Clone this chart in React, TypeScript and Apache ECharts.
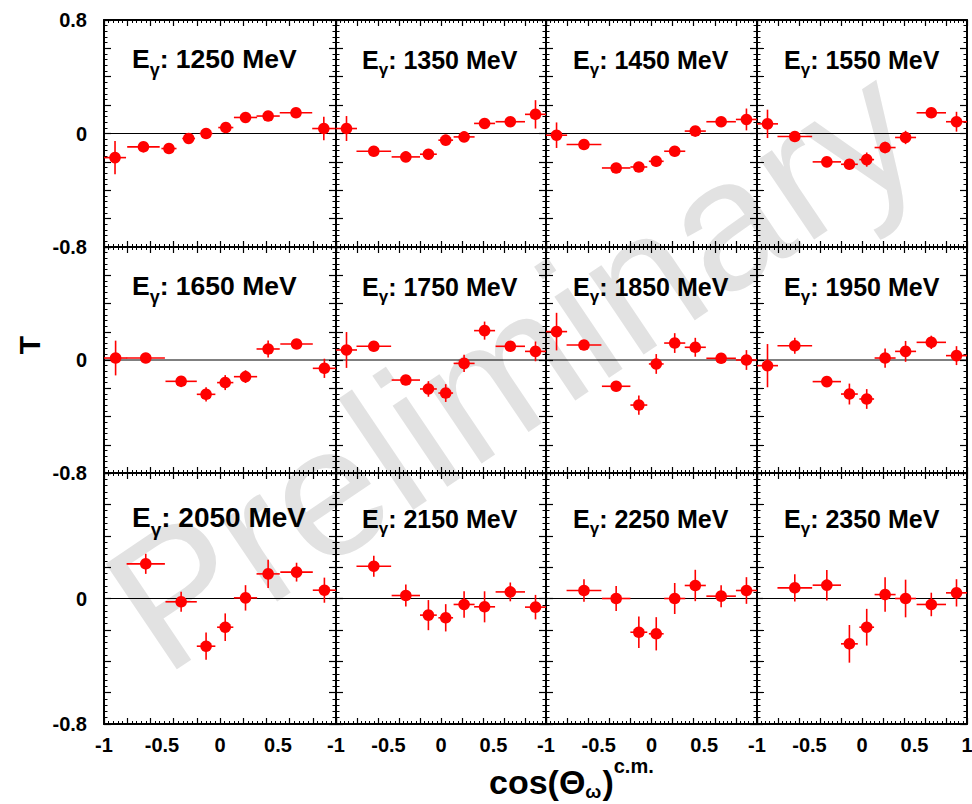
import React, { useEffect, useRef } from 'react';
import * as echarts from 'echarts';

// ---------- data ----------
const ENERGIES = [1250, 1350, 1450, 1550, 1650, 1750, 1850, 1950, 2050, 2150, 2250, 2350];

// angular bins (cos theta_omega c.m.) and half bin widths
const COS_10 = [-0.905, -0.66, -0.44, -0.27, -0.12, 0.05, 0.22, 0.415, 0.655, 0.895];
const HALF_10 = [0.095, 0.14, 0.065, 0.055, 0.055, 0.065, 0.1, 0.1, 0.14, 0.1];
const COS_9 = [-0.9, -0.64, -0.335, -0.12, 0.045, 0.22, 0.415, 0.66, 0.9];
const HALF_9 = [0.1, 0.165, 0.135, 0.08, 0.07, 0.1, 0.1, 0.14, 0.1];
const COS_8 = [-0.64, -0.335, -0.12, 0.045, 0.22, 0.415, 0.66, 0.9];
const HALF_8 = [0.165, 0.135, 0.08, 0.07, 0.1, 0.1, 0.14, 0.1];

const T_1250 = [-0.17, -0.094, -0.106, -0.035, 0.0, 0.042, 0.113, 0.123, 0.146, 0.035];
const ERR_1250 = [0.118, 0.03, 0.03, 0.03, 0.025, 0.025, 0.03, 0.03, 0.03, 0.083];
const T_1350 = [0.035, -0.125, -0.165, -0.146, -0.047, -0.024, 0.071, 0.083, 0.135];
const ERR_1350 = [0.088, 0.03, 0.03, 0.03, 0.03, 0.03, 0.03, 0.03, 0.1];
const T_1450 = [-0.012, -0.078, -0.243, -0.236, -0.196, -0.125, 0.017, 0.083, 0.099];
const ERR_1450 = [0.09, 0.03, 0.03, 0.03, 0.035, 0.035, 0.03, 0.03, 0.077];
const T_1550 = [0.068, -0.021, -0.2, -0.217, -0.184, -0.099, -0.028, 0.146, 0.083];
const ERR_1550 = [0.1, 0.03, 0.03, 0.035, 0.05, 0.04, 0.047, 0.035, 0.07];
const T_1650 = [0.014, 0.014, -0.151, -0.243, -0.16, -0.118, 0.078, 0.113, -0.059];
const ERR_1650 = [0.123, 0.03, 0.03, 0.05, 0.053, 0.045, 0.06, 0.03, 0.068];
const T_1750 = [0.071, 0.097, -0.142, -0.205, -0.234, -0.024, 0.208, 0.097, 0.061];
const ERR_1750 = [0.127, 0.03, 0.03, 0.055, 0.063, 0.061, 0.064, 0.03, 0.07];
const T_1850 = [0.201, 0.106, -0.186, -0.319, -0.028, 0.12, 0.09, 0.012, 0.0];
const ERR_1850 = [0.133, 0.03, 0.03, 0.068, 0.07, 0.07, 0.067, 0.03, 0.07];
const T_1950 = [-0.04, 0.101, -0.153, -0.241, -0.276, 0.014, 0.061, 0.125, 0.031];
const ERR_1950 = [0.153, 0.057, 0.03, 0.074, 0.07, 0.068, 0.074, 0.047, 0.067];
const T_2050 = [0.221, -0.021, -0.304, -0.183, 0.004, 0.157, 0.168, 0.053];
const ERR_2050 = [0.064, 0.064, 0.087, 0.088, 0.081, 0.09, 0.06, 0.08];
const T_2150 = [0.206, 0.019, -0.106, -0.123, -0.038, -0.053, 0.042, -0.055];
const ERR_2150 = [0.067, 0.07, 0.096, 0.087, 0.085, 0.099, 0.06, 0.078];
const T_2250 = [0.051, 0.0, -0.215, -0.225, 0.0, 0.083, 0.015, 0.051];
const ERR_2250 = [0.072, 0.08, 0.1, 0.106, 0.099, 0.1, 0.07, 0.085];
const T_2350 = [0.068, 0.085, -0.289, -0.183, 0.025, 0.0, -0.038, 0.036];
const ERR_2350 = [0.087, 0.097, 0.12, 0.117, 0.11, 0.12, 0.075, 0.087];

const X_TICK_LABELS = [-1, -0.5, 0, 0.5, 1];
const Y_TICK_LABELS = [-0.8, 0, 0.8];

const PANELS = [
  { cos: COS_10, half: HALF_10, t: T_1250, err: ERR_1250 },
  { cos: COS_9, half: HALF_9, t: T_1350, err: ERR_1350 },
  { cos: COS_9, half: HALF_9, t: T_1450, err: ERR_1450 },
  { cos: COS_9, half: HALF_9, t: T_1550, err: ERR_1550 },
  { cos: COS_9, half: HALF_9, t: T_1650, err: ERR_1650 },
  { cos: COS_9, half: HALF_9, t: T_1750, err: ERR_1750 },
  { cos: COS_9, half: HALF_9, t: T_1850, err: ERR_1850 },
  { cos: COS_9, half: HALF_9, t: T_1950, err: ERR_1950 },
  { cos: COS_8, half: HALF_8, t: T_2050, err: ERR_2050 },
  { cos: COS_8, half: HALF_8, t: T_2150, err: ERR_2150 },
  { cos: COS_8, half: HALF_8, t: T_2250, err: ERR_2250 },
  { cos: COS_8, half: HALF_8, t: T_2350, err: ERR_2350 },
];

// ---------- layout ----------
const COL_LEFT = [104, 336, 546, 757];
const COL_RIGHT = [336, 546, 757, 967];
const ROW_TOP = [20, 247, 473];
const ROW_BOTTOM = [247, 473, 724];
const TITLE_X = [132, 362, 573, 784];
const TITLE_BASE = [68.3, 295.3, 527.3];

const FONT = '"Liberation Sans", Arial, Helvetica, sans-serif';
const RED = '#ff0000';

function measure(text: string, size: number): number {
  const ctx = document.createElement('canvas').getContext('2d');
  if (!ctx) return text.length * size * 0.6;
  ctx.font = `bold ${size}px "Liberation Sans", Arial, sans-serif`;
  return ctx.measureText(text).width;
}

function buildOption() {
  const grid: any[] = [];
  const xAxis: any[] = [];
  const yAxis: any[] = [];
  const series: any[] = [];
  const graphic: any[] = [];

  graphic.push({
    type: 'text',
    x: 512,
    y: 366,
    rotation: 0.593,
    z: -10,
    silent: true,
    style: {
      text: 'Preliminary',
      fontSize: 185,
      fontFamily: FONT,
      fill: '#e2e2e2',
      align: 'center',
      verticalAlign: 'middle',
    },
  });

  PANELS.forEach((p, i) => {
    const r = Math.floor(i / 4);
    const c = i % 4;
    grid.push({
      left: COL_LEFT[c],
      top: ROW_TOP[r],
      width: COL_RIGHT[c] - COL_LEFT[c],
      height: ROW_BOTTOM[r] - ROW_TOP[r],
      containLabel: false,
      outerBoundsMode: 'none',
    });
    const lineStyle = { color: '#000', width: 2 };
    const tickStyle = { color: '#000', width: 1.2 };
    const xBase = (pos: string, labels: boolean) => ({
      gridIndex: i,
      type: 'value',
      position: pos,
      min: -1,
      max: 1,
      interval: 0.2,
      axisLine: { show: true, onZero: false, lineStyle },
      axisTick: { show: true, inside: true, length: 6, lineStyle: tickStyle },
      minorTick: { show: true, splitNumber: 5, length: 3, lineStyle: { color: '#000', width: 1 } },
      splitLine: { show: false },
      minorSplitLine: { show: false },
      axisLabel: labels
        ? {
            show: true,
            customValues: c === 3 ? X_TICK_LABELS : X_TICK_LABELS.slice(0, 4),
            margin: 11,
            fontSize: 20,
            fontWeight: 'bold',
            fontFamily: FONT,
            color: '#000',
          }
        : { show: false },
    });
    xAxis.push(xBase('bottom', r === 2));
    xAxis.push(xBase('top', false));
    const yBase = (pos: string, labels: boolean) => ({
      gridIndex: i,
      type: 'value',
      position: pos,
      min: -0.8,
      max: 0.8,
      interval: 0.2,
      axisLine: { show: true, onZero: false, lineStyle },
      axisTick: { show: true, inside: true, length: 7, lineStyle: tickStyle },
      minorTick: { show: true, splitNumber: 5, length: 3.5, lineStyle: { color: '#000', width: 1 } },
      splitLine: { show: false },
      minorSplitLine: { show: false },
      axisLabel: labels
        ? {
            show: true,
            customValues: r === 0 ? Y_TICK_LABELS : Y_TICK_LABELS.slice(0, 2),
            margin: 17,
            fontSize: 20,
            fontWeight: 'bold',
            fontFamily: FONT,
            color: '#000',
          }
        : { show: false },
    });
    yAxis.push(yBase('left', c === 0));
    yAxis.push(yBase('right', false));

    series.push({
      type: 'line',
      xAxisIndex: 2 * i,
      yAxisIndex: 2 * i,
      data: [[-1, 0], [1, 0]],
      symbol: 'none',
      silent: true,
      lineStyle: { color: '#000', width: 1 },
      z: 1,
    });
    series.push({
      type: 'custom',
      xAxisIndex: 2 * i,
      yAxisIndex: 2 * i,
      clip: false,
      z: 3,
      encode: { x: 0, y: 1 },
      data: p.cos.map((x, k) => [x, p.t[k], p.half[k], p.err[k]]),
      renderItem: (_params: any, api: any) => {
        const x = api.value(0);
        const y = api.value(1);
        const hw = api.value(2);
        const e = api.value(3);
        const ctr = api.coord([x, y]);
        const lft = api.coord([x - hw, y]);
        const rgt = api.coord([x + hw, y]);
        const top = api.coord([x, y + e]);
        const bot = api.coord([x, y - e]);
        const st = { stroke: RED, lineWidth: 1.6 };
        return {
          type: 'group',
          children: [
            { type: 'line', shape: { x1: lft[0], y1: ctr[1], x2: rgt[0], y2: ctr[1] }, style: st },
            { type: 'line', shape: { x1: ctr[0], y1: top[1], x2: ctr[0], y2: bot[1] }, style: st },
            { type: 'circle', shape: { cx: ctr[0], cy: ctr[1], r: 5.8 }, style: { fill: RED } },
          ],
        };
      },
    });

    const fs = c === 0 ? (r === 2 ? 28 : 26.5) : 25;
    const L = 1.5 * fs;
    const lg = 0.68 * fs;
    graphic.push({
      type: 'text',
      x: TITLE_X[c],
      y: TITLE_BASE[r] - 0.3465 * fs,
      z: 20,
      silent: true,
      style: {
        text: `{e|E}{g|γ}{t|: ${ENERGIES[i]} MeV}`,
        align: 'left',
        verticalAlign: 'middle',
        rich: {
          e: { fontSize: fs, fontWeight: 'bold', fontFamily: FONT, fill: '#000', lineHeight: L, verticalAlign: 'middle' },
          g: { fontSize: lg, fontWeight: 'bold', fontFamily: FONT, fill: '#000', lineHeight: lg, verticalAlign: 'bottom' },
          t: { fontSize: fs, fontWeight: 'bold', fontFamily: FONT, fill: '#000', lineHeight: L, verticalAlign: 'middle' },
        },
      },
    });
  });

  // y axis title
  graphic.push({
    type: 'text',
    x: 29,
    y: 345,
    rotation: Math.PI / 2,
    silent: true,
    style: {
      text: 'T',
      fontSize: 30,
      fontWeight: 'bold',
      fontFamily: FONT,
      fill: '#000',
      align: 'center',
      verticalAlign: 'middle',
    },
  });

  // x axis title: cos(Θ_ω)^c.m.
  const x0 = 489;
  const yMain = 782;
  const parts = [
    { text: 'cos(Θ', size: 34, dy: 0 },
    { text: 'ω', size: 19, dy: 9 },
    { text: ')', size: 34, dy: 0 },
    { text: 'c.m.', size: 20, dy: -16 },
  ];
  let cx = x0;
  parts.forEach((pt) => {
    graphic.push({
      type: 'text',
      x: cx,
      y: yMain + pt.dy,
      silent: true,
      style: {
        text: pt.text,
        fontSize: pt.size,
        fontWeight: 'bold',
        fontFamily: FONT,
        fill: '#000',
        align: 'left',
        verticalAlign: 'middle',
      },
    });
    cx += measure(pt.text, pt.size) + (pt.text === 'ω' ? 1 : 0);
  });

  return {
    animation: false,
    backgroundColor: '#ffffff',
    grid,
    xAxis,
    yAxis,
    series,
    graphic,
  };
}

export default function App() {
  const ref = useRef<HTMLDivElement>(null);
  useEffect(() => {
    if (!ref.current) return;
    const chart = echarts.init(ref.current, undefined, { renderer: 'svg' });
    chart.setOption(buildOption() as any);
    return () => chart.dispose();
  }, []);
  return (
    <div
      ref={ref}
      style={{ position: 'absolute', left: 0, top: 0, width: 972, height: 804 }}
    />
  );
}
